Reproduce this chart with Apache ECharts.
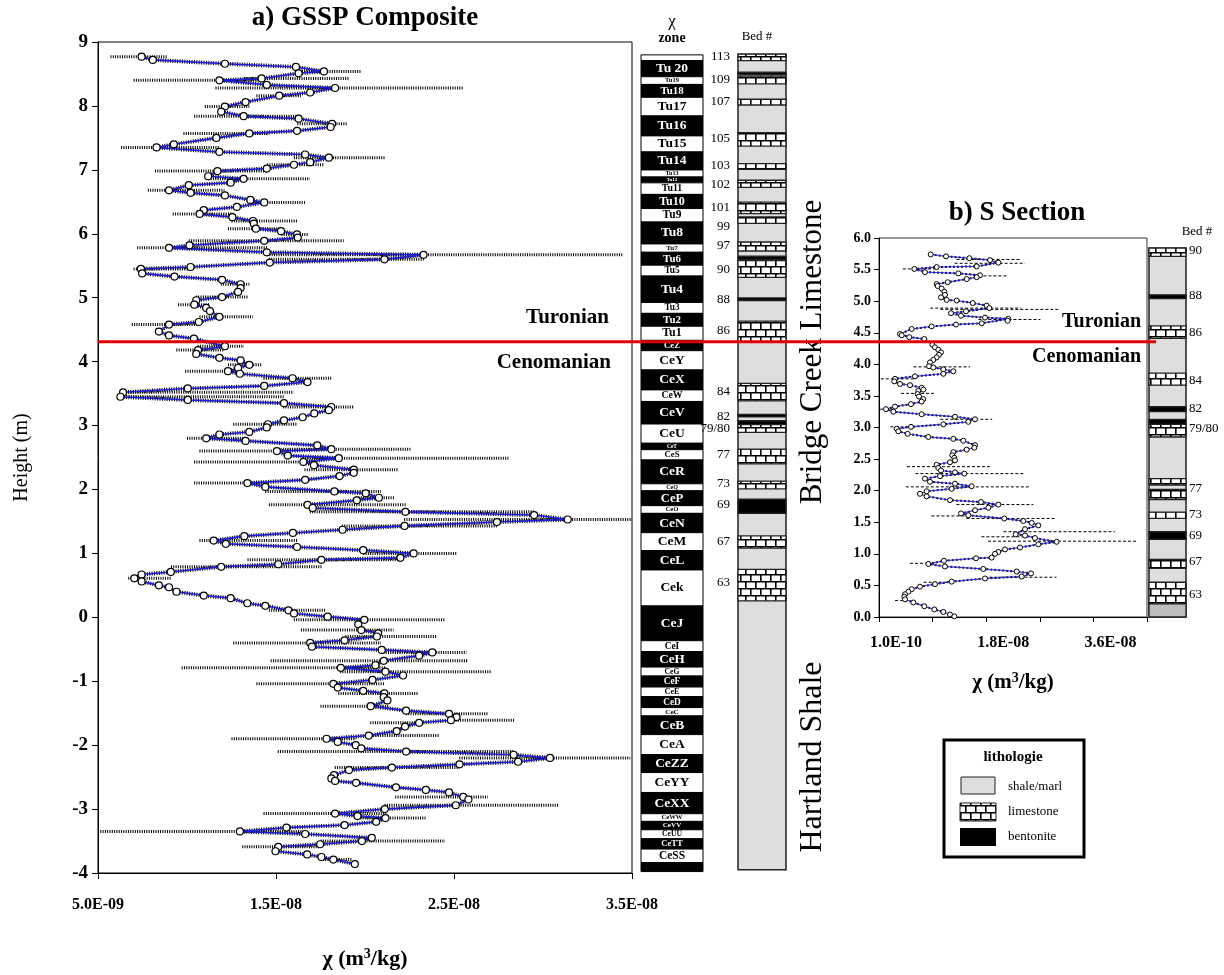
<!DOCTYPE html>
<html><head><meta charset="utf-8">
<script src="https://cdn.jsdelivr.net/npm/echarts@6/dist/echarts.min.js"></script>
<style>html,body{margin:0;background:#fff}#c{width:1224px;height:975px}</style>
</head><body><div id="c"></div>
<script>
// ---------- DATA (chi values in units of 1e-9 m3/kg, heights in m) ----------
const heightA = [8.77,8.72,8.66,8.61,8.54,8.51,8.43,8.40,8.33,8.28,8.21,8.16,8.06,7.99,7.91,7.84,7.80,7.72,7.67,7.61,7.57,7.50,7.40,7.35,7.28,7.24,7.19,7.12,7.08,7.02,6.98,6.90,6.86,6.80,6.76,6.68,6.64,6.60,6.53,6.49,6.42,6.37,6.31,6.26,6.20,6.16,6.08,6.04,5.99,5.94,5.89,5.82,5.78,5.71,5.67,5.60,5.55,5.48,5.45,5.38,5.33,5.28,5.21,5.15,5.09,5.01,4.96,4.89,4.84,4.79,4.70,4.62,4.58,
4.47,4.41,4.36,4.24,4.18,4.12,4.06,4.02,3.95,3.90,3.85,3.81,3.74,3.68,3.62,3.58,3.52,3.45,3.40,3.35,3.29,3.24,3.19,3.13,3.08,3.02,2.97,2.90,2.86,2.80,2.76,2.69,2.63,2.60,2.53,2.49,2.43,2.38,2.31,2.26,2.21,2.15,2.10,2.04,1.97,1.94,1.87,1.83,1.76,1.71,1.65,1.60,1.53,1.49,1.43,1.37,1.32,1.27,1.20,1.15,1.10,1.05,1.00,0.93,0.90,0.83,0.79,0.71,0.67,0.61,0.56,0.50,0.47,0.40,0.34,0.30,0.22,0.18,0.11,0.06,0.01,-0.04,
-0.11,-0.20,-0.25,-0.30,-0.36,-0.40,-0.46,-0.51,-0.55,-0.60,-0.68,-0.75,-0.79,-0.85,-0.91,-0.98,-1.04,-1.10,-1.15,-1.19,-1.25,-1.30,-1.39,-1.46,-1.51,-1.56,-1.61,-1.65,-1.71,-1.78,-1.85,-1.90,-1.95,-2.00,-2.05,-2.10,-2.15,-2.20,-2.26,-2.30,-2.35,-2.39,-2.47,-2.52,-2.56,-2.59,-2.66,-2.70,-2.74,-2.81,-2.85,-2.94,-3.00,-3.07,-3.11,-3.14,-3.20,-3.25,-3.29,-3.35,-3.39,-3.45,-3.50,-3.55,-3.59,-3.66,-3.71,-3.75,-3.79,-3.86];
const chiA = [7.45,8.08,12.13,16.12,17.69,16.27,14.19,11.82,14.48,18.32,16.92,15.18,13.29,12.13,11.92,13.18,16.27,18.15,18.07,16.18,13.50,11.65,9.26,8.29,11.82,16.64,17.97,16.92,16.01,14.48,11.71,11.19,13.18,12.45,10.10,8.99,10.20,12.13,13.56,14.34,12.80,10.94,10.71,12.55,13.71,13.75,13.87,15.28,16.18,16.22,14.34,10.14,8.99,14.48,23.29,21.09,14.65,10.20,7.41,7.48,9.30,11.97,13.01,13.01,12.87,11.97,10.52,10.41,11.08,11.29,11.82,10.66,8.99,
8.42,8.99,10.39,12.13,10.62,10.52,11.82,13.01,13.50,12.87,12.30,12.97,15.93,16.77,14.34,10.04,6.41,6.26,10.04,15.45,18.11,17.97,17.15,16.50,15.45,14.55,14.48,13.50,11.82,11.08,13.29,17.32,18.11,15.05,15.66,18.53,16.54,17.13,19.37,19.37,18.57,16.64,13.39,14.40,18.28,20.04,20.78,19.54,16.77,17.06,22.27,29.50,31.39,27.41,22.22,18.74,15.95,13.22,11.50,12.18,16.18,19.90,22.73,21.99,17.55,15.13,11.92,9.09,7.45,7.04,7.45,8.42,8.99,9.41,10.94,12.45,13.39,14.40,15.70,16.01,17.90,19.96,
19.62,19.79,20.74,20.67,18.85,16.92,17.02,20.94,23.78,23.04,21.05,20.59,18.64,21.15,22.14,20.42,18.22,18.47,19.90,21.09,21.05,21.26,20.32,22.31,24.72,25.14,24.83,23.04,22.25,21.78,20.21,17.84,18.47,19.48,19.79,22.31,28.35,30.39,28.60,25.31,21.51,19.10,18.26,18.11,18.32,19.50,21.74,23.42,24.72,25.52,25.81,25.10,21.11,18.32,19.58,21.15,20.63,18.85,15.59,12.97,16.64,20.38,19.83,17.48,15.13,14.97,16.75,17.55,18.22,19.43];
// error ranges [height, low, high]
const errA = [[8.77,5.7,8.9],[8.54,16.2,19.8],[8.43,13.2,19.1],[8.40,7.0,14.3],[8.28,11.6,25.5],[8.16,13.9,16.4],[7.99,11.0,13.5],[7.84,10.4,16.3],[7.72,16.2,19.0],[7.57,9.8,14.6],[7.35,6.3,11.8],[7.19,16.0,21.1],[7.08,14.5,17.7],[6.98,8.2,14.5],[6.86,11.2,16.9],[6.68,7.8,12.1],[6.49,13.6,16.7],[6.31,9.2,12.6],[6.20,12.5,16.2],[6.08,12.3,15.3],[5.99,15.3,16.8],[5.89,10.1,18.8],[5.78,7.2,14.5],[5.67,14.5,34.5],[5.60,14.6,23.3],[5.45,7.0,10.2],[5.21,11.9,13.5],[5.01,10.5,13.4],[4.89,9.5,11.3],[4.70,10.7,13.7],[4.58,6.9,10.7],
[4.24,10.6,13.2],[4.18,9.4,12.1],[3.95,12.3,14.2],[3.85,9.9,13.0],[3.74,14.3,18.1],[3.52,6.3,16.0],[3.45,6.2,15.5],[3.29,15.4,19.4],[3.02,12.6,16.2],[2.80,10.0,13.3],[2.63,15.0,22.6],[2.60,10.7,15.7],[2.49,16.5,28.1],[2.43,10.4,17.1],[2.31,16.6,21.9],[2.10,10.4,14.4],[1.97,14.4,20.9],[1.87,19.5,21.7],[1.76,14.6,22.3],[1.65,16.9,29.5],[1.53,22.2,35.0],[1.43,18.7,27.4],[1.20,10.7,16.2],[1.00,19.9,25.2],[0.90,13.4,22.0],[0.79,9.1,17.6],[0.61,6.7,9.1],[0.11,14.6,17.8],[-0.04,16.0,24.5],
[-0.20,16.4,21.6],[-0.30,18.9,24.0],[-0.40,12.6,20.9],[-0.55,20.9,25.7],[-0.68,14.7,25.8],[-0.79,9.7,21.2],[-0.85,18.6,27.1],[-1.04,13.9,21.1],[-1.19,18.5,23.0],[-1.39,17.5,21.3],[-1.51,22.3,26.9],[-1.61,24.7,28.4],[-1.65,20.3,23.0],[-1.85,20.2,24.2],[-1.90,12.5,19.5],[-2.10,15.1,28.4],[-2.20,25.3,34.9],[-2.35,18.3,25.3],[-2.81,21.7,26.9],[-2.94,21.1,30.9],[-3.07,14.3,21.2],[-3.14,19.6,23.4],[-3.35,5.0,16.6],[-3.50,17.5,24.5],[-3.59,13.1,17.5],[-3.79,17.5,19.3]];

const heightB = [5.74,5.71,5.68,5.65,5.61,5.55,5.54,5.51,5.46,5.44,5.41,5.38,5.35,5.30,5.27,5.24,5.20,5.15,5.10,5.06,5.02,5.01,4.97,4.93,4.89,4.84,4.81,4.77,4.74,4.72,4.69,4.65,4.63,4.60,4.56,4.48,4.46,4.43,4.40,4.31,4.27,4.23,4.19,4.15,4.11,4.07,4.03,3.97,3.95,3.92,3.89,3.85,3.81,3.77,3.73,3.69,3.67,3.63,3.60,3.58,3.53,3.49,3.45,3.41,3.37,3.33,3.29,3.25,3.21,3.17,3.13,3.09,3.05,3.01,2.98,2.94,2.90,2.85,2.82,2.79,2.72,2.68,2.65,2.61,2.56,2.52,2.48,2.45,2.41,2.36,2.32,2.29,2.27,2.23,2.19,2.14,2.11,2.07,2.03,1.99,1.95,1.91,1.85,1.82,1.78,1.73,1.69,1.64,1.61,1.56,1.52,1.49,1.45,1.39,1.31,1.29,1.25,1.19,1.15,1.10,1.07,1.03,1.00,0.94,0.93,0.89,0.84,0.80,0.76,0.72,0.69,0.64,0.61,0.56,0.52,0.48,0.44,0.40,0.36,0.32,0.28,0.23,0.17,0.12,0.08,0.04,0.01];
const chiB = [8.78,11.35,15.27,18.74,20.14,16.50,9.78,6.03,7.82,13.42,17.06,16.50,14.82,11.63,9.78,9.95,10.62,11.07,11.18,10.51,11.46,13.14,15.83,18.18,18.63,14.71,12.19,13.87,17.90,21.82,21.70,17.34,13.03,8.94,5.59,3.63,3.91,5.19,7.71,9.06,9.50,10.06,10.51,10.17,9.78,9.22,8.66,8.50,9.22,10.90,12.58,10.90,6.14,2.79,2.67,3.63,5.31,7.26,7.54,6.70,6.59,6.82,7.54,7.26,5.47,2.79,1.28,2.51,7.26,12.86,16.22,15.10,10.90,5.47,3.07,3.35,4.91,8.38,12.58,14.26,16.22,16.11,14.82,12.58,12.41,12.75,12.86,12.02,9.78,10.06,10.51,12.86,14.43,10.34,7.82,8.66,12.86,15.66,12.30,8.10,6.98,8.10,12.02,17.23,20.14,18.46,16.22,13.87,15.10,21.14,24.34,25.73,26.85,24.61,23.05,24.61,26.29,29.93,26.85,23.78,21.26,20.14,19.58,19.02,16.39,11.01,8.38,11.18,17.62,23.22,25.62,24.06,17.90,12.30,9.50,6.98,5.59,5.03,4.47,4.35,4.47,5.87,7.71,9.39,10.90,12.02,12.75];
const errB = [[5.66,13.1,24.0],[5.60,12.8,24.6],[5.51,4.1,9.8],[5.40,16.8,21.6],[4.89,8.7,24.0],[4.87,10.4,30.2],[4.71,16.8,27.2],[3.96,5.9,15.4],[3.77,0.4,6.1],[3.54,3.8,9.6],[3.29,0.3,2.5],[3.13,10.4,19.1],[3.01,2.0,5.5],[2.38,4.8,18.8],[2.27,6.2,24.4],[2.06,4.6,25.5],[1.78,13.1,26.0],[1.60,8.9,15.1],[1.56,14.8,29.6],[1.35,21.0,39.7],[1.27,17.3,26.3],[1.20,18.4,43.6],[0.85,5.3,8.4],[0.63,17.8,29.9],[0.55,7.6,12.3],[0.26,2.8,4.5]];

// chi zones [name, top m, bottom m, dark]
const zones = [['',8.80,8.71,0],['Tu 20',8.71,8.46,1],['Tu19',8.46,8.34,0],['Tu18',8.34,8.14,1],['Tu17',8.14,7.85,0],['Tu16',7.85,7.54,1],['Tu15',7.54,7.29,0],['Tu14',7.29,7.01,1],['Tu13',7.01,6.90,0],['Tu12',6.90,6.81,1],['Tu11',6.81,6.63,0],['Tu10',6.63,6.41,1],['Tu9',6.41,6.20,0],['Tu8',6.20,5.86,1],['Tu7',5.86,5.73,0],['Tu6',5.73,5.53,1],['Tu5',5.53,5.36,0],['Tu4',5.36,4.95,1],['Tu3',4.95,4.78,0],['Tu2',4.78,4.58,1],['Tu1',4.58,4.36,0],
['CeZ',4.36,4.20,1],['CeY',4.20,3.90,0],['CeX',3.90,3.59,1],['CeW',3.59,3.41,0],['CeV',3.41,3.06,1],['CeU',3.06,2.76,0],['CeT',2.76,2.66,1],['CeS',2.66,2.50,0],['CeR',2.50,2.13,1],['CeQ',2.13,2.02,0],['CeP',2.02,1.79,1],['CeO',1.79,1.67,0],['CeN',1.67,1.37,1],['CeM',1.37,1.09,0],['CeL',1.09,0.79,1],['Cek',0.79,0.23,0],['CeJ',0.23,-0.31,1],['CeI',-0.31,-0.48,0],['CeH',-0.48,-0.72,1],['CeG',-0.72,-0.86,0],['CeF',-0.86,-1.03,1],['CeE',-1.03,-1.18,0],['CeD',-1.18,-1.35,1],['CeC',-1.35,-1.48,0],['CeB',-1.48,-1.77,1],['CeA',-1.77,-2.08,0],['CeZZ',-2.08,-2.36,1],['CeYY',-2.36,-2.67,0],['CeXX',-2.67,-3.00,1],['CeWW',-3.00,-3.12,0],['CeVV',-3.12,-3.25,1],['CeUU',-3.25,-3.39,0],['CeTT',-3.39,-3.55,1],['CeSS',-3.55,-3.76,0],['',-3.76,-3.90,1]];

// lithology columns [type, top m, bottom m]
const bedsA = [['shale',8.81,-3.87],['lime',8.81,8.71],['bent',8.53,8.49],['lime',8.47,8.35],['lime',8.11,8.02],['lime',7.59,7.38],['lime',7.11,7.02],['lime',6.85,6.74],['lime',6.51,6.33],['lime',6.28,6.18],['lime',5.89,5.75],['bent',5.67,5.62],['lime',5.60,5.34],['bent',5.02,4.98],['lime',4.66,4.33],['lime',3.69,3.42],['bent',3.21,3.17],['bent',3.11,3.05],['lime',3.05,2.93],['lime',2.67,2.44],['lime',2.17,2.05],['bent',1.89,1.67],['lime',1.32,1.13],['lime',0.80,0.31]];
const bedLabelsA = [[8.77,'113'],[8.42,'109'],[8.07,'107'],[7.50,'105'],[7.08,'103'],[6.79,'102'],[6.43,'101'],[6.13,'99'],[5.84,'97'],[5.46,'90'],[5.00,'88'],[4.51,'86'],[3.56,'84'],[3.17,'82'],[2.99,'79/80'],[2.58,'77'],[2.13,'73'],[1.80,'69'],[1.23,'67'],[0.60,'63']];
const bedsB = [['shale',5.84,0.0],['lime',5.84,5.71],['bent',5.10,5.04],['lime',4.61,4.41],['lime',3.86,3.67],['bent',3.33,3.25],['bent',3.13,3.05],['lime',3.05,2.85],['lime',2.19,2.09],['lime',2.02,1.86],['lime',1.66,1.56],['bent',1.35,1.23],['lime',0.91,0.77],['lime',0.55,0.21],['dark',0.21,0.0]];
const bedLabelsB = [[5.80,'90'],[5.09,'88'],[4.50,'86'],[3.75,'84'],[3.30,'82'],[2.99,'79/80'],[2.04,'77'],[1.62,'73'],[1.29,'69'],[0.88,'67'],[0.35,'63']];

const boundaryHeight = 4.31;
const ticksA = [5, 15, 25, 35];
const ticksB = [0.1, 9.1, 18.1, 27.1, 36.1, 45.1];
const labelsB = [0.1, 18.1, 36.1];

// ---------- helpers ----------
const SERIF = '"Liberation Serif","Times New Roman",serif';
function fmtE(v){
  const s = (v*1e-9).toExponential(1);
  const parts = s.split('e');
  const sign = parts[1][0] === '-' ? '-' : '+';
  const d = parts[1].replace(/[+-]/,'');
  return parts[0] + 'E' + sign + d.padStart(2,'0');
}
function brick(){
  const c = document.createElement('canvas'); c.width = 20; c.height = 14;
  const g = c.getContext('2d');
  g.fillStyle = '#fff'; g.fillRect(0,0,20,14);
  g.fillStyle = '#000';
  g.fillRect(0,0,20,1.5); g.fillRect(0,7,20,1.5);
  g.fillRect(0,0,1.6,7); g.fillRect(10,0,1.6,7);
  g.fillRect(5,7,1.6,7); g.fillRect(15,7,1.6,7);
  return c;
}
const brickCanvas = brick();
function fillFor(t){
  if (t === 'lime') return {image: brickCanvas, repeat: 'repeat'};
  if (t === 'bent') return '#000';
  if (t === 'dark') return '#bdbdbd';
  return '#dedede';
}
function bedRender(list){
  return function(params, api){
    const b = list[api.value(2)];
    const p1 = api.coord([0, b[1]]), p2 = api.coord([1, b[2]]);
    return {type:'rect', shape:{x:p1[0], y:p1[1], width:p2[0]-p1[0], height:p2[1]-p1[1]},
      style:{fill: fillFor(b[0]), stroke:'#222', lineWidth: b[0]==='shale' ? 1.5 : 1.3}};
  };
}
function labelRender(list, side, size){
  return function(params, api){
    const b = list[api.value(2)];
    const p = api.coord([side === 'left' ? 0 : 1, b[0]]);
    return {type:'text', style:{text:b[1], x: side === 'left' ? p[0]-8 : p[0]+3, y:p[1],
      align: side === 'left' ? 'right' : 'left', verticalAlign:'middle', fill:'#000',
      font: size + 'px ' + SERIF}};
  };
}
function errRender(width, dash){
  return function(params, api){
    const p1 = api.coord([api.value(0), api.value(1)]);
    const p2 = api.coord([api.value(2), api.value(1)]);
    return {type:'line', shape:{x1:p1[0], y1:p1[1], x2:p2[0], y2:p2[1]},
      style:{stroke:'#000', lineWidth:width, lineDash:dash}};
  };
}

const chart = echarts.init(document.getElementById('c'), null, {renderer:'canvas'});
const hiddenX = (g) => ({gridIndex:g, type:'value', min:0, max:1, show:false});
const hiddenY = (g, mn, mx) => ({gridIndex:g, type:'value', min:mn, max:mx, show:false});

const option = {
  animation:false,
  backgroundColor:'#fff',
  grid:[
    {left:98, top:42, width:534, height:836, show:true, borderColor:'#000', borderWidth:1},
    {left:641, top:42, width:62, height:836},
    {left:738, top:42, width:48, height:836},
    {left:879, top:238, width:268, height:379, show:true, borderColor:'#333', borderWidth:1},
    {left:1149, top:238, width:37, height:379}
  ],
  xAxis:[
    {gridIndex:0, type:'value', min:5, max:35,
      axisLine:{onZero:false, lineStyle:{color:'#000', width:1}},
      axisTick:{customValues:ticksA, length:6, inside:false, lineStyle:{color:'#000'}},
      axisLabel:{customValues:ticksA, formatter:fmtE, fontFamily:SERIF, fontWeight:'bold', fontSize:16, color:'#000', margin:24},
      splitLine:{show:false},
      name:'χ (m{s|3}/kg)', nameLocation:'middle', nameGap:74,
      nameTextStyle:{fontFamily:SERIF, fontWeight:'bold', fontSize:22, color:'#000', rich:{s:{fontFamily:SERIF, fontWeight:'bold', fontSize:14, verticalAlign:'top', padding:[0,0,10,0]}}}},
    hiddenX(1), hiddenX(2),
    {gridIndex:3, type:'value', min:0.1, max:45.1,
      axisLine:{onZero:false, lineStyle:{color:'#000', width:1}},
      axisTick:{customValues:ticksB, length:5, lineStyle:{color:'#000'}},
      axisLabel:{customValues:labelsB, formatter:fmtE, fontFamily:SERIF, fontWeight:'bold', fontSize:16, color:'#000', margin:18, padding:[0,0,0,34]},
      splitLine:{show:false},
      name:'χ (m{s|3}/kg)', nameLocation:'middle', nameGap:54,
      nameTextStyle:{fontFamily:SERIF, fontWeight:'bold', fontSize:21, color:'#000', rich:{s:{fontFamily:SERIF, fontWeight:'bold', fontSize:14, verticalAlign:'top', padding:[0,0,10,0]}}}},
    hiddenX(4)
  ],
  yAxis:[
    {gridIndex:0, type:'value', min:-4, max:9, interval:1,
      axisLine:{show:true, onZero:false, lineStyle:{color:'#000', width:1}},
      axisTick:{show:true, length:6, lineStyle:{color:'#000'}},
      axisLabel:{fontFamily:SERIF, fontWeight:'bold', fontSize:19, color:'#000', margin:10},
      splitLine:{show:false},
      name:'Height (m)', nameLocation:'middle', nameGap:66, nameRotate:90,
      nameTextStyle:{fontFamily:SERIF, fontSize:20, color:'#000'}},
    hiddenY(1,-4,9), hiddenY(2,-4,9),
    {gridIndex:3, type:'value', min:0, max:6, interval:0.5,
      axisLine:{show:true, onZero:false, lineStyle:{color:'#000', width:1}},
      axisTick:{show:true, length:5, lineStyle:{color:'#000'}},
      axisLabel:{fontFamily:SERIF, fontWeight:'bold', fontSize:14, color:'#000', margin:8, formatter:(v)=>v.toFixed(1)},
      splitLine:{show:false}},
    hiddenY(4,0,6)
  ],
  series:[
    {type:'custom', xAxisIndex:0, yAxisIndex:0, clip:true, z:1,
      renderItem: errRender(3, [1,1.3]), encode:{x:[0,2], y:1},
      data: errA.map(e => [e[1], e[0], e[2]])},
    {type:'line', xAxisIndex:0, yAxisIndex:0, z:2, symbol:'none', silent:true,
      lineStyle:{color:'#000', width:4, type:[1,1.4]},
      data: heightA.map((h,i) => [chiA[i], h])},
    {type:'line', xAxisIndex:0, yAxisIndex:0, z:3, symbol:'circle', symbolSize:7,
      lineStyle:{color:'#1c1cd6', width:1.6},
      itemStyle:{color:'#fff', borderColor:'#000', borderWidth:1.2},
      data: heightA.map((h,i) => [chiA[i], h])},
    {type:'custom', xAxisIndex:1, yAxisIndex:1, z:2,
      renderItem:function(params, api){
        const z = zones[api.value(2)];
        const p1 = api.coord([0, z[1]]), p2 = api.coord([1, z[2]]);
        const h = p2[1]-p1[1];
        const fs = Math.max(5, Math.min(13.5, h*0.85));
        return {type:'group', children:[
          {type:'rect', shape:{x:p1[0], y:p1[1], width:p2[0]-p1[0], height:h},
            style:{fill: z[3] ? '#000' : '#fff', stroke:'#000', lineWidth:1}},
          {type:'text', style:{text:z[0], x:(p1[0]+p2[0])/2, y:(p1[1]+p2[1])/2, align:'center', verticalAlign:'middle',
            fill: z[3] ? '#fff' : '#000', font:'bold ' + fs.toFixed(1) + 'px ' + SERIF}}
        ]};
      },
      encode:{x:0, y:1},
      data: zones.map((z,i) => [0, z[1], i])},
    {type:'custom', xAxisIndex:2, yAxisIndex:2, z:2, renderItem: bedRender(bedsA),
      encode:{x:0, y:1}, data: bedsA.map((b,i) => [0, b[1], i])},
    {type:'custom', xAxisIndex:2, yAxisIndex:2, z:3, renderItem: labelRender(bedLabelsA, 'left', 13),
      encode:{x:0, y:1}, data: bedLabelsA.map((b,i) => [0, b[0], i])},
    {type:'custom', xAxisIndex:3, yAxisIndex:3, clip:true, z:1,
      renderItem: errRender(1, [3,2]), encode:{x:[0,2], y:1},
      data: errB.map(e => [e[1], e[0], e[2]])},
    {type:'line', xAxisIndex:3, yAxisIndex:3, z:2, symbol:'none', silent:true,
      lineStyle:{color:'#000', width:2, type:[2,2]},
      data: heightB.map((h,i) => [chiB[i], h])},
    {type:'line', xAxisIndex:3, yAxisIndex:3, z:3, symbol:'circle', symbolSize:5,
      lineStyle:{color:'#2a2ae0', width:1},
      itemStyle:{color:'#fff', borderColor:'#000', borderWidth:1},
      data: heightB.map((h,i) => [chiB[i], h])},
    {type:'custom', xAxisIndex:4, yAxisIndex:4, z:2, renderItem: bedRender(bedsB),
      encode:{x:0, y:1}, data: bedsB.map((b,i) => [0, b[1], i])},
    {type:'custom', xAxisIndex:4, yAxisIndex:4, z:3, renderItem: labelRender(bedLabelsB, 'right', 13),
      encode:{x:0, y:1}, data: bedLabelsB.map((b,i) => [0, b[0], i])}
  ]
};
chart.setOption(option);

const yr = chart.convertToPixel({gridIndex:0}, [5, boundaryHeight])[1];
const T = (text, x, y, font, align, extra) => Object.assign({type:'text', style:{text, x, y, font, fill:'#000', align:align||'center', verticalAlign:'middle'}, z:20}, extra||{});
chart.setOption({graphic:[
  T('a) GSSP Composite', 365, 18, 'bold 27px ' + SERIF),
  T('b) S Section', 1017, 213, 'bold 27px ' + SERIF),
  T('χ', 672, 22, '17px ' + SERIF),
  T('zone', 672, 38, 'bold 14px ' + SERIF),
  T('Bed #', 757, 37, '13px ' + SERIF),
  T('Bed #', 1197, 232, '13px ' + SERIF),
  T('Turonian', 609, 318, 'bold 21px ' + SERIF, 'right'),
  T('Cenomanian', 611, 363, 'bold 21px ' + SERIF, 'right'),
  T('Turonian', 1141, 322, 'bold 20px ' + SERIF, 'right'),
  T('Cenomanian', 1141, 357, 'bold 20px ' + SERIF, 'right'),
  {type:'text', x:813, y:352, rotation:Math.PI/2, z:20, style:{text:'Bridge Creek Limestone', x:0, y:0, align:'center', verticalAlign:'middle', font:'31px ' + SERIF, fill:'#000'}},
  {type:'text', x:813, y:757, rotation:Math.PI/2, z:20, style:{text:'Hartland Shale', x:0, y:0, align:'center', verticalAlign:'middle', font:'32px ' + SERIF, fill:'#000'}},
  {type:'line', z:30, shape:{x1:98, y1:yr, x2:1156, y2:yr}, style:{stroke:'#e00000', lineWidth:3}},
  {type:'rect', z:20, shape:{x:944, y:740, width:140, height:117}, style:{fill:'#fff', stroke:'#000', lineWidth:3}},
  T('lithologie', 1013, 757, 'bold 15px ' + SERIF),
  {type:'rect', z:21, shape:{x:961, y:777, width:34, height:17}, style:{fill:'#dedede', stroke:'#222', lineWidth:1}},
  {type:'rect', z:21, shape:{x:960, y:803, width:36, height:18}, style:{fill:{image:brickCanvas, repeat:'repeat'}, stroke:'#222', lineWidth:1}},
  {type:'rect', z:21, shape:{x:960, y:828, width:36, height:18}, style:{fill:'#000'}},
  T('shale/marl', 1008, 787, '13px ' + SERIF, 'left'),
  T('limestone', 1008, 812, '13px ' + SERIF, 'left'),
  T('bentonite', 1008, 837, '13px ' + SERIF, 'left')
]});
</script></body></html>
